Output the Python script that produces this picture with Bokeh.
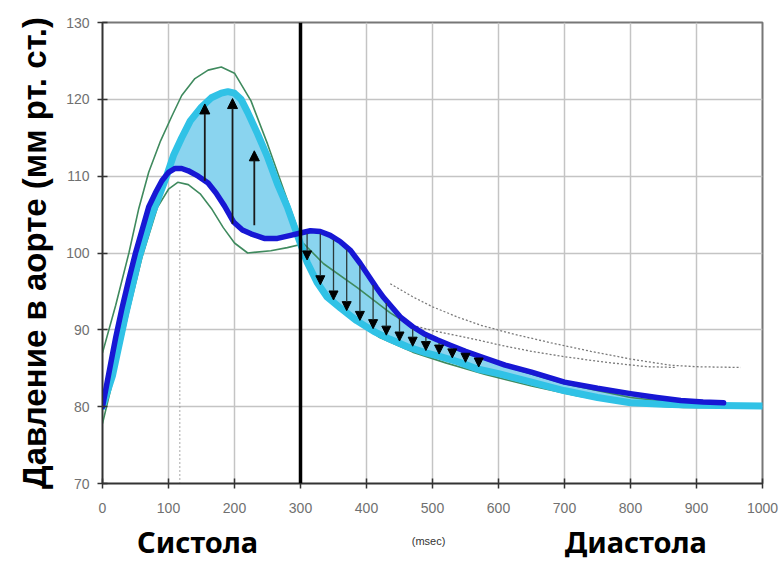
import numpy as np
from bokeh.plotting import figure
from bokeh.layouts import column
from bokeh.models import (Range1d, FixedTicker, ColumnDataSource, Arrow, NormalHead, Span)
from bokeh.core.properties import value
from bokeh.embed import file_html
from bokeh.resources import INLINE

# --- aortic pressure curves (time in msec, pressure in mm Hg) ---
blue_t = [0, 10, 20, 30, 40, 50, 60, 70, 80, 90, 100, 110, 120, 130, 145, 160, 172, 185,
          199, 212, 225, 245, 265, 285, 300, 315, 330, 345, 360, 376, 390, 401, 415, 426,
          440, 452, 470, 487, 507, 527, 550, 577, 610, 650, 700, 750, 800, 840, 876, 910, 941]
blue_p = [80, 84.5, 89, 93, 96.6, 100, 103, 106, 107.8, 109.4, 110.5, 111.0, 111.0, 110.7,
          110.0, 109.1, 107.8, 106.1, 104.0, 103.0, 102.5, 101.9, 101.9, 102.3, 102.6, 102.9,
          102.8, 102.3, 101.5, 100.3, 98.7, 97.3, 95.5, 94.2, 92.8, 91.6, 90.4, 89.5, 88.7,
          88.0, 87.2, 86.4, 85.4, 84.5, 83.2, 82.4, 81.7, 81.2, 80.8, 80.6, 80.5]

cyan_t = [0, 15, 35, 55, 75, 95, 108, 120, 133, 150, 165, 180, 190, 200, 210, 220, 235,
          250, 265, 280, 290, 300, 310, 325, 340, 361, 385, 411, 435, 462, 490, 512, 540,
          568, 600, 650, 699, 750, 800, 850, 900, 1000]
cyan_p = [80, 84, 92, 99.3, 105, 109.5, 112.8, 115, 117.2, 119, 120.2, 120.8, 121, 120.8,
          120, 118.3, 115.5, 112.5, 109, 106, 103.6, 101.2, 98.8, 96.2, 94.3, 92.8, 91.2,
          89.8, 88.8, 87.8, 87.0, 86.5, 85.8, 84.9, 84.3, 83.2, 82.1, 81.2, 80.5, 80.3,
          80.2, 80.1]

green_hi_t = [0, 20, 40, 55, 70, 88, 105, 120, 140, 160, 180, 200, 225, 250, 275, 295,
              310, 330, 370, 420, 470, 520, 580, 650, 720, 800, 880, 940]
green_hi_p = [87, 93.2, 100, 105.8, 110.5, 114.6, 117.8, 120.5, 122.7, 123.8, 124.2, 123.4,
              119.8, 114.2, 108.1, 103.3, 99.3, 95.7, 91.9, 89.0, 87.1, 85.7, 84.2, 82.7,
              81.4, 80.3, 79.9, 79.9]

green_lo_t = [0, 20, 40, 60, 83, 100, 114, 130, 148, 165, 183, 200, 220, 255, 280, 305,
              335, 386, 436, 490, 550, 620, 700, 800, 900, 940]
green_lo_p = [77.8, 85, 92.5, 99.5, 105.9, 108.3, 109.2, 108.9, 107.7, 105.8, 103.3, 101.3,
              100.0, 100.3, 100.7, 101.2, 98.6, 95.5, 92.2, 89.3, 87.0, 85.0, 83.0, 81.2,
              80.2, 80.0]

dot_a_t = [436, 470, 500, 540, 573, 620, 680, 740, 800, 860, 900, 967]
dot_a_p = [96, 94.3, 93.0, 91.6, 90.6, 89.5, 88.3, 87.2, 86.2, 85.4, 85.2, 85.1]
dot_b_t = [470, 500, 540, 573, 603, 650, 700, 760, 825, 870]
dot_b_p = [90.6, 89.9, 89.2, 88.6, 88.0, 87.2, 86.5, 85.8, 85.2, 85.1]

# systolic augmentation arrows
up_x = [155, 197, 230]
up_from = [109.4, 103.8, 103.6]
up_to = [119.4, 120.1, 113.3]

# diastolic arrows, from the blue curve down to the cyan curve
down_x = [310, 330, 350, 370, 390, 410, 430, 450, 470, 490, 510, 530, 550, 570]

peak_t = 117
peak_p = 108.5
end_systole = 300

x_ticks = list(range(0, 1001, 100))
y_ticks = list(range(70, 131, 10))

# captions under the time axis
phase_names = ["Систола", "Диастола"]
phase_pos = [144, 808]
unit_text = "(msec)"
unit_pos = 494

BLUE = "#1717d4"
CYAN = "#30c2e6"
FILL = "#8ad4ef"
GREEN = "#3f8a5e"

MAIN_H = 519
CAP_H = 43

p = figure(width=784, height=MAIN_H, x_range=Range1d(0, 1000), y_range=Range1d(70, 130),
           output_backend="svg", toolbar_location=None,
           min_border_left=102, min_border_right=22, min_border_top=22, min_border_bottom=36)
p.background_fill_color = "white"
p.border_fill_color = "white"
p.outline_line_color = "#777777"
p.outline_line_width = 2

for ax, ticks in ((p.xaxis, x_ticks), (p.yaxis, y_ticks)):
    ax.ticker = FixedTicker(ticks=ticks)
    ax.axis_line_color = "#333333"
    ax.axis_line_width = 1.5
    ax.major_tick_line_color = "#333333"
    ax.major_tick_line_width = 1.5
    ax.major_tick_in = 5
    ax.major_tick_out = 5
    ax.minor_tick_line_color = None
    ax.major_label_text_font = "Liberation Sans"
    ax.major_label_text_font_size = "14px"
    ax.major_label_text_color = "#707070"
p.xaxis.major_label_standoff = 14
p.yaxis.major_label_standoff = 8

p.xgrid.ticker = FixedTicker(ticks=x_ticks)
p.ygrid.ticker = FixedTicker(ticks=y_ticks)
p.grid.grid_line_color = "#c4c4c4"
p.grid.grid_line_width = 1.5

p.yaxis.axis_label = "Давление в аорте (мм рт. ст.)"
p.yaxis.axis_label_text_font = "Liberation Sans"
p.yaxis.axis_label_text_font_style = "bold"
p.yaxis.axis_label_text_font_size = "33px"
p.yaxis.axis_label_text_color = "black"
p.yaxis.axis_label_standoff = 10

# shaded area between the two thick curves
grid_t = np.linspace(0, blue_t[-1], 800)
b_i = np.interp(grid_t, blue_t, blue_p)
c_i = np.interp(grid_t, cyan_t, cyan_p)
p.varea(x=grid_t, y1=np.minimum(b_i, c_i), y2=np.maximum(b_i, c_i), fill_color=FILL)

# dotted reference traces
p.line(dot_a_t, dot_a_p, line_color="#7a7a7a", line_width=1.3, line_dash="2 2")
p.line(dot_b_t, dot_b_p, line_color="#7a7a7a", line_width=1.3, line_dash="2 2")
p.segment(x0=[peak_t], y0=[70], x1=[peak_t], y1=[peak_p], line_color="#8a8a8a",
          line_width=1.5, line_dash="1 3")

# thin green envelopes
p.line(green_hi_t, green_hi_p, line_color=GREEN, line_width=1.6)
p.line(green_lo_t, green_lo_p, line_color=GREEN, line_width=1.6)

# main curves
p.line(cyan_t, cyan_p, line_color=CYAN, line_width=7, line_join="round", line_cap="round")
p.line(blue_t, blue_p, line_color=BLUE, line_width=5.5, line_join="round", line_cap="round")

# arrows
up_src = ColumnDataSource(dict(x=up_x, y0=up_from, y1=up_to))
p.add_layout(Arrow(end=NormalHead(size=10, fill_color="black", line_color="black"),
                   x_start="x", y_start="y0", x_end="x", y_end="y1", source=up_src,
                   line_color="#1a1a1a", line_width=1.8))

down_from = np.interp(down_x, blue_t, blue_p) - 0.3
down_to = np.interp(down_x, cyan_t, cyan_p) + 0.3
dn_src = ColumnDataSource(dict(x=down_x, y0=down_from, y1=down_to))
p.add_layout(Arrow(end=NormalHead(size=9, fill_color="black", line_color="black"),
                   x_start="x", y_start="y0", x_end="x", y_end="y1", source=dn_src,
                   line_color="#2b3a3a", line_width=1.3))

# end of systole
p.add_layout(Span(location=end_systole, dimension="height", line_color="black",
                  line_width=3.5))

# caption strip sharing the time scale (y in pixels from the strip's bottom)
cap = figure(width=784, height=CAP_H, x_range=p.x_range, y_range=Range1d(0, CAP_H),
             output_backend="svg", toolbar_location=None,
             min_border_left=102, min_border_right=22, min_border_top=0, min_border_bottom=0)
cap.axis.visible = False
cap.grid.visible = False
cap.outline_line_color = None
cap.background_fill_color = "white"
cap.border_fill_color = "white"
cap.text(x=phase_pos, y=[21] * len(phase_pos), text=phase_names, text_align="center",
         text_baseline="middle", text_font=value("Noto Sans"), text_font_style="bold",
         text_font_size="29px", text_color="black")
cap.text(x=[unit_pos], y=[22], text=[unit_text], text_align="center",
         text_baseline="middle", text_font=value("Liberation Sans"),
         text_font_size="11px", text_color="#333333")

layout = column(p, cap, spacing=0)
open("out.html", "w").write(file_html(layout, INLINE))
